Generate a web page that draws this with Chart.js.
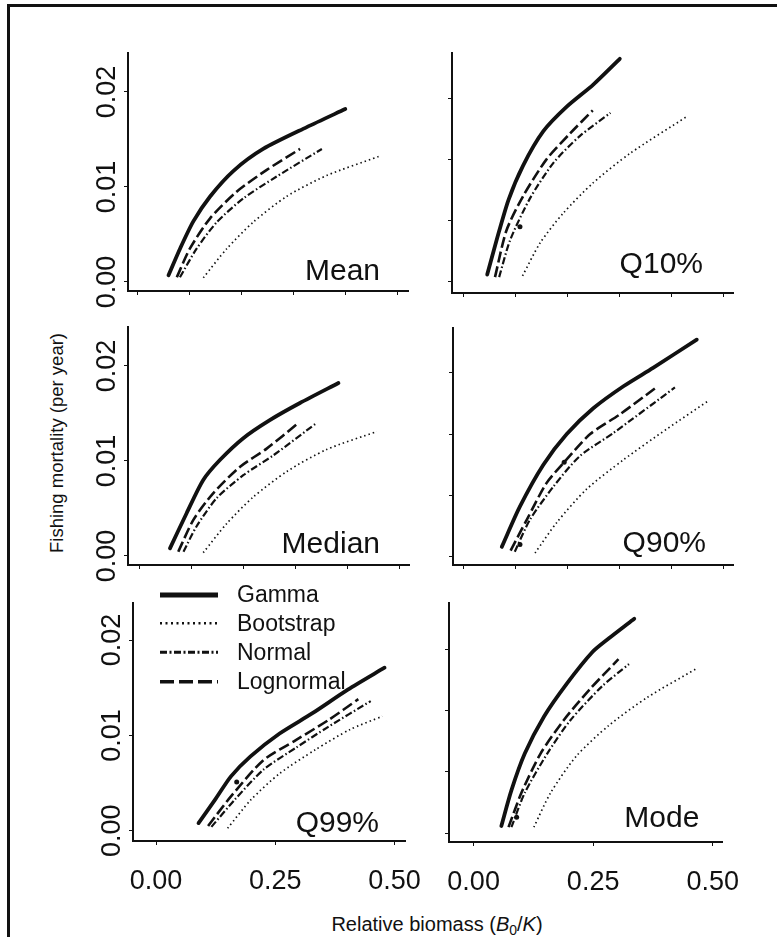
<!DOCTYPE html>
<html>
<head>
<meta charset="utf-8">
<script src="https://cdn.jsdelivr.net/npm/chart.js@4"></script>
<style>
  body { margin: 0; width: 777px; height: 937px; overflow: hidden; background: #fff; position: relative;
         font-family: 'Liberation Sans', Arial, sans-serif; color: #111; }
  .frame { position: absolute; left: 7px; top: 4px; width: 900px; height: 1000px;
           border-left: 3px solid #111; border-top: 3px solid #111; }
  canvas { position: absolute; }
  #ytitle { position: absolute; left: -93px; top: 433px; width: 300px; height: 20px; line-height: 20px;
            font-size: 18.5px; text-align: center; transform: rotate(-90deg); white-space: nowrap; }
  #xtitle { position: absolute; left: 237px; top: 914px; width: 400px; line-height: 20px;
            font-size: 20px; text-align: center; white-space: nowrap; }
  #xtitle sub { font-size: 0.7em; line-height: 0; vertical-align: -0.25em; }
</style>
</head>
<body>
<div class="frame"></div>
<div id="ytitle">Fishing mortality (per year)</div>
<div id="xtitle">Relative biomass (<i>B</i><sub>0</sub>/<i>K</i>)</div>
<script>
const SERIES = ['Gamma', 'Bootstrap', 'Normal', 'Lognormal'];

const X_TICKS_UPPER = [0, 0.1, 0.2, 0.3, 0.4, 0.5];
const X_TICKS_LOWER = [0, 0.25, 0.5];
const Y_TICKS_LEFT = [0, 0.01, 0.02];
const Y_TICKS_RIGHT = [0, 0.005, 0.01, 0.015];

// [relative biomass, fishing mortality]
const meanGamma = [[0.060, 0.0007], [0.083, 0.0036], [0.108, 0.0064], [0.140, 0.0090], [0.185, 0.0117], [0.242, 0.0140], [0.326, 0.0163], [0.400, 0.0182]];
const meanBoot = [[0.127, 0.00045], [0.172, 0.0035], [0.223, 0.0063], [0.287, 0.0090], [0.364, 0.0112], [0.464, 0.0132]];
const meanNormal = [[0.082, 0.0005], [0.114, 0.0035], [0.153, 0.0063], [0.204, 0.0088], [0.268, 0.0111], [0.355, 0.0140]];
const meanLog = [[0.076, 0.0005], [0.101, 0.0035], [0.140, 0.0067], [0.191, 0.0095], [0.249, 0.0118], [0.313, 0.0140]];

const q10Gamma = [[0.046, 0.0006], [0.064, 0.0034], [0.087, 0.0067], [0.115, 0.0095], [0.154, 0.0123], [0.199, 0.0143], [0.250, 0.0161], [0.301, 0.0182]];
const q10Boot = [[0.114, 0.0005], [0.148, 0.0032], [0.192, 0.0056], [0.250, 0.0081], [0.321, 0.0105], [0.430, 0.0135]];
const q10Normal = [[0.069, 0.0004], [0.090, 0.0034], [0.128, 0.0068], [0.173, 0.0097], [0.224, 0.0119], [0.283, 0.0138]];
const q10Log = [[0.061, 0.0004], [0.083, 0.0042], [0.115, 0.0070], [0.160, 0.0100], [0.205, 0.0121], [0.249, 0.0140]];
const q10Dots = [[0.109, 0.0045]];

const medGamma = [[0.059, 0.0008], [0.091, 0.0045], [0.123, 0.0080], [0.155, 0.0101], [0.200, 0.0124], [0.251, 0.0143], [0.309, 0.0161], [0.383, 0.0182]];
const medBoot = [[0.123, 0.00035], [0.168, 0.0034], [0.219, 0.0062], [0.284, 0.0089], [0.360, 0.0112], [0.457, 0.0131]];
const medNormal = [[0.085, 0.00045], [0.110, 0.0031], [0.149, 0.0061], [0.200, 0.0085], [0.258, 0.0106], [0.341, 0.0140]];
const medLog = [[0.075, 0.00045], [0.104, 0.0038], [0.142, 0.0066], [0.194, 0.0094], [0.245, 0.0113], [0.306, 0.0140]];

const q90Gamma = [[0.074, 0.0008], [0.109, 0.0041], [0.154, 0.0075], [0.199, 0.0100], [0.250, 0.0121], [0.308, 0.0139], [0.365, 0.0154], [0.449, 0.0177]];
const q90Boot = [[0.138, 0.0003], [0.180, 0.0028], [0.237, 0.0055], [0.308, 0.0079], [0.391, 0.0104], [0.471, 0.0127]];
const q90Normal = [[0.099, 0.0004], [0.128, 0.0030], [0.173, 0.0057], [0.224, 0.0082], [0.289, 0.0101], [0.407, 0.0138]];
const q90Log = [[0.091, 0.0005], [0.122, 0.0030], [0.160, 0.0060], [0.194, 0.0077], [0.244, 0.0100], [0.301, 0.0116], [0.371, 0.0138]];
const q90Dots = [[0.109, 0.0010], [0.194, 0.0077]];

const q99Gamma = [[0.089, 0.0008], [0.123, 0.0032], [0.157, 0.0057], [0.198, 0.0078], [0.259, 0.0102], [0.327, 0.0123], [0.402, 0.0148], [0.479, 0.0171]];
const q99Boot = [[0.150, 0.00025], [0.198, 0.0032], [0.259, 0.0060], [0.334, 0.0085], [0.406, 0.0106], [0.474, 0.0120]];
const q99Normal = [[0.116, 0.0004], [0.164, 0.0032], [0.225, 0.0064], [0.293, 0.0087], [0.361, 0.0109], [0.450, 0.0136]];
const q99Log = [[0.109, 0.0005], [0.157, 0.0036], [0.225, 0.0074], [0.293, 0.0095], [0.361, 0.0116], [0.424, 0.0138]];
const q99Dots = [[0.169, 0.0051]];

const modeGamma = [[0.058, 0.0006], [0.079, 0.0035], [0.107, 0.0065], [0.147, 0.0095], [0.195, 0.0122], [0.249, 0.0148], [0.283, 0.0159], [0.336, 0.0175]];
const modeBoot = [[0.126, 0.0005], [0.161, 0.0033], [0.215, 0.0063], [0.283, 0.0088], [0.364, 0.0111], [0.465, 0.0134]];
const modeNormal = [[0.079, 0.0005], [0.107, 0.0033], [0.154, 0.0065], [0.202, 0.0092], [0.269, 0.0120], [0.325, 0.0138]];
const modeLog = [[0.073, 0.0005], [0.100, 0.0033], [0.140, 0.0065], [0.188, 0.0092], [0.242, 0.0117], [0.303, 0.0142]];
const modeDots = [[0.090, 0.0013]];

const INK = '#111';
const FONT = "'Liberation Sans', Arial, sans-serif";

const lineStyle = {
  Gamma:     { borderWidth: 3.8, borderDash: [], borderCapStyle: 'round' },
  Bootstrap: { borderWidth: 1.7, borderDash: [1.5, 3] },
  Normal:    { borderWidth: 2.2, borderDash: [7, 2.5, 1.5, 2.5] },
  Lognormal: { borderWidth: 2.6, borderDash: [11, 4] }
};
const legendStyle = {
  Gamma:     { width: 5, dash: [] },
  Bootstrap: { width: 2.5, dash: [2, 3.5] },
  Normal:    { width: 3, dash: [7, 2.5, 2, 2.5] },
  Lognormal: { width: 3.5, dash: [14, 5] }
};

// canvas geometry: left/top of the canvas, plot width/height, per panel
const panels = [
  { name: 'Mean', data: [meanGamma, meanBoot, meanNormal, meanLog], dots: [],
    left: 58, top: 43, w: 280, h: 238, padTop: 10, xH: 20, lower: false, leftCol: true,
    xMin: -0.0179, xMax: 0.5206, yMin: -0.00095, yMax: 0.0241, lab: { r: 28, b: 11 } },
  { name: 'Q10%', data: [q10Gamma, q10Boot, q10Normal, q10Log], dots: q10Dots,
    left: 382, top: 43, w: 281, h: 240, padTop: 10, xH: 20, lower: false, leftCol: false,
    xMin: -0.0217, xMax: 0.5187, yMin: -0.0009, yMax: 0.01868, lab: { r: 30, b: 20 } },
  { name: 'Median', data: [medGamma, medBoot, medNormal, medLog], dots: [],
    left: 58, top: 317, w: 281, h: 238, padTop: 10, xH: 20, lower: false, leftCol: true,
    xMin: -0.0217, xMax: 0.5187, yMin: -0.00095, yMax: 0.0241, lab: { r: 29, b: 12 } },
  { name: 'Q90%', data: [q90Gamma, q90Boot, q90Normal, q90Log], dots: q90Dots,
    left: 383, top: 318, w: 280, h: 237, padTop: 10, xH: 20, lower: false, leftCol: false,
    xMin: -0.0198, xMax: 0.5187, yMin: -0.00068, yMax: 0.01865, lab: { r: 27, b: 13 } },
  { name: 'Q99%', data: [q99Gamma, q99Boot, q99Normal, q99Log], dots: q99Dots,
    left: 63, top: 573, w: 279, h: 238, padTop: 30, xH: 70, lower: true, leftCol: true, legend: true,
    xMin: -0.0484, xMax: 0.5219, yMin: -0.00108, yMax: 0.02389, lab: { r: 26, b: 9 } },
  { name: 'Mode', data: [modeGamma, modeBoot, modeNormal, modeLog], dots: modeDots,
    left: 379, top: 593, w: 281, h: 239, padTop: 10, xH: 70, lower: true, leftCol: false,
    xMin: -0.0515, xMax: 0.5203, yMin: -0.00071, yMax: 0.01878, lab: { r: 23, b: 15 } }
];

const Y_W = 70;
const PAD_RIGHT = 30;

const panelLabel = {
  id: 'panelLabel',
  afterDraw(chart, args, opts) {
    const { ctx, chartArea } = chart;
    ctx.save();
    ctx.font = `30px ${FONT}`;
    ctx.fillStyle = INK;
    ctx.textAlign = 'right';
    ctx.textBaseline = 'alphabetic';
    ctx.fillText(opts.text, chartArea.right - opts.r, chartArea.bottom - opts.b);
    ctx.restore();
  }
};

const seriesLegend = {
  id: 'seriesLegend',
  afterDraw(chart, args, opts) {
    if (!opts.show) return;
    const { ctx, chartArea } = chart;
    const rows = [-8, 20.3, 49.3, 78.7];
    ctx.save();
    ctx.strokeStyle = INK;
    ctx.fillStyle = INK;
    ctx.font = `23px ${FONT}`;
    ctx.textBaseline = 'middle';
    SERIES.forEach((s, i) => {
      const y = chartArea.top + rows[i];
      const st = legendStyle[s];
      ctx.lineWidth = st.width;
      ctx.setLineDash(st.dash);
      ctx.beginPath();
      ctx.moveTo(chartArea.left + 27, y);
      ctx.lineTo(chartArea.left + 85, y);
      ctx.stroke();
      ctx.fillText(s, chartArea.left + 104, y + 1);
    });
    ctx.restore();
  }
};

const toPoints = arr => arr.map(p => ({ x: p[0], y: p[1] }));

panels.forEach(p => {
  const canvas = document.createElement('canvas');
  const cw = Y_W + p.w + PAD_RIGHT;
  const ch = p.padTop + p.h + p.xH;
  canvas.width = cw;
  canvas.height = ch;
  canvas.style.left = p.left + 'px';
  canvas.style.top = p.top + 'px';
  canvas.style.width = cw + 'px';
  canvas.style.height = ch + 'px';
  document.body.appendChild(canvas);

  const datasets = SERIES.map((s, i) => Object.assign({
    label: s,
    data: toPoints(p.data[i]),
    borderColor: INK,
    backgroundColor: INK,
    pointRadius: 0,
    tension: 0.25,
    fill: false
  }, lineStyle[s]));
  datasets.push({
    label: 'points',
    data: toPoints(p.dots),
    showLine: false,
    pointRadius: 2.5,
    pointBackgroundColor: INK,
    pointBorderColor: INK,
    pointBorderWidth: 0
  });

  const xTicks = p.lower ? X_TICKS_LOWER : X_TICKS_UPPER;
  const yTicks = p.leftCol ? Y_TICKS_LEFT : Y_TICKS_RIGHT;

  new Chart(canvas.getContext('2d'), {
    type: 'line',
    data: { datasets },
    options: {
      responsive: false,
      animation: false,
      devicePixelRatio: 1,
      layout: { padding: { top: p.padTop, right: PAD_RIGHT, left: 0, bottom: 0 } },
      plugins: {
        legend: { display: false },
        tooltip: { enabled: false },
        panelLabel: { text: p.name, r: p.lab.r, b: p.lab.b },
        seriesLegend: { show: !!p.legend }
      },
      scales: {
        x: {
          type: 'linear',
          min: p.xMin,
          max: p.xMax,
          afterBuildTicks: s => { s.ticks = xTicks.map(v => ({ value: v })); },
          afterFit: s => { s.height = p.xH; },
          border: { display: true, color: INK, width: 2 },
          grid: { drawOnChartArea: false, drawTicks: true, tickLength: 4, color: INK, lineWidth: 1 },
          ticks: {
            display: p.lower,
            padding: 20,
            color: INK,
            font: { family: FONT, size: 27 },
            maxRotation: 0,
            callback: v => v.toFixed(2)
          }
        },
        y: {
          type: 'linear',
          min: p.yMin,
          max: p.yMax,
          afterBuildTicks: s => { s.ticks = yTicks.map(v => ({ value: v })); },
          afterFit: s => { s.width = Y_W; },
          border: { display: true, color: INK, width: 2 },
          grid: { drawOnChartArea: false, drawTicks: true, tickLength: 4, color: INK, lineWidth: 1 },
          ticks: {
            display: p.leftCol,
            padding: -10,
            crossAlign: 'center',
            minRotation: 90,
            maxRotation: 90,
            color: INK,
            font: { family: FONT, size: 27 },
            callback: v => v.toFixed(2)
          }
        }
      }
    },
    plugins: [panelLabel, seriesLegend]
  });
});
</script>
</body>
</html>
